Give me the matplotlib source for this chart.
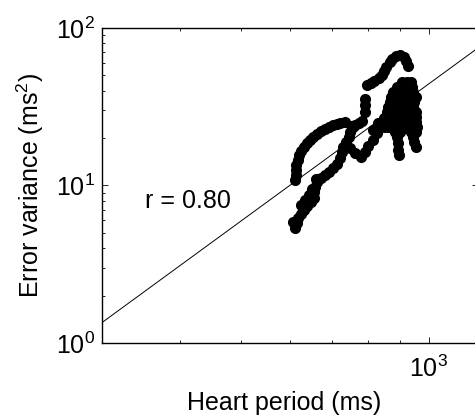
import numpy as np
import matplotlib
matplotlib.use("Agg")
import matplotlib.pyplot as plt
from matplotlib.ticker import LogLocator, NullFormatter

plt.rcParams['font.family'] = ['Liberation Sans', 'DejaVu Sans']
plt.rcParams['mathtext.fontset'] = 'custom'
plt.rcParams['mathtext.rm'] = 'Liberation Sans'

# heart period (ms) / error variance (ms^2)
# upper-left arc
hp_arc = [611, 613, 613, 613, 617, 620, 624, 631, 638, 645, 652, 662, 672, 682,
          692, 702, 712, 722, 733, 753, 763, 774, 782]
ev_arc = [10.8, 11.7, 12.5, 13.5, 14.5, 15.6, 16.6, 17.6, 18.6, 19.4, 20.3, 21.2,
          22.2, 22.8, 23.5, 24.2, 24.6, 24.9, 25.3, 23.9, 24.2, 24.9, 25.7]

# isolated dots + top arc
hp_top = [789, 789, 789, 795, 807, 818, 831, 840, 849, 855, 865, 874, 887, 900,
          913, 920, 927]
ev_top = [29.3, 32.5, 35.4, 43.5, 44.8, 46.1, 48.1, 50.3, 53.3, 56.5, 60.8, 63.6,
          66.4, 67.4, 65.4, 61.7, 57.4]

# dense cluster
hp_blob = [907, 924, 937,
           890, 907, 924, 941,
           877, 893, 910, 927, 944,
           871, 887, 904, 920, 937, 952,
           865, 880, 897, 913, 930, 948,
           861, 877, 893, 910, 927, 944,
           858, 874, 890, 907, 924, 941, 955,
           855, 871, 887, 904, 920, 937, 955,
           852, 868, 884, 900, 918, 934, 952,
           846, 861, 877, 893, 910, 927, 944, 958,
           884, 900, 937, 955,
           944, 948, 952,
           890, 893, 893, 897]
ev_blob = [45.4, 45.4, 45.4,
           42.2, 42.2, 42.2, 42.2,
           39.2, 39.2, 39.2, 39.2, 39.2,
           36.5, 36.5, 36.5, 36.5, 36.5, 36.5,
           33.9, 33.9, 33.9, 33.9, 33.9, 33.9,
           31.5, 31.5, 31.5, 31.5, 31.5, 31.5,
           29.3, 29.3, 29.3, 29.3, 29.3, 29.3, 29.3,
           27.2, 27.2, 27.2, 27.2, 27.2, 27.2, 27.2,
           25.3, 25.3, 25.3, 25.3, 25.3, 25.3, 25.3,
           23.5, 23.5, 23.5, 23.5, 23.5, 23.5, 23.5, 23.5,
           21.9, 21.9, 21.9, 21.9,
           20.3, 18.9, 17.6,
           20.3, 18.6, 16.8, 15.6]

# lower trace
hp_low = [611, 615, 617, 624, 631, 638, 647, 654, 654, 657, 662, 672, 682, 692,
          702, 712, 722, 727, 730, 736, 744, 749, 755,
          624, 633, 643, 606, 650, 660,
          749, 763, 778, 789, 800, 813, 825, 837, 849, 861, 813, 828]
ev_low = [5.37, 5.78, 6.22, 6.59, 6.99, 7.41, 7.86, 8.33, 9.09, 9.78, 10.5, 11.2,
          11.7, 12.2, 12.9, 13.7, 14.9, 16.3, 17.6, 18.9, 20.3, 21.9, 23.5,
          7.52, 8.09, 8.71, 5.9, 9.5, 11.0,
          17.3, 16.1, 15.2, 16.3, 17.8, 19.4, 21.5, 23.9, 26.8, 30.2, 22.5, 24.9]

# log-log regression line: log10(ev) = a + b*log10(hp)
fit_a = -7.054
fit_b = 2.9
r_value = 0.80

hp = np.array(hp_arc + hp_top + hp_blob + hp_low, dtype=float)
ev = np.array(ev_arc + ev_top + ev_blob + ev_low, dtype=float)

fig = plt.figure(figsize=(4.75, 4.16), dpi=100)
ax = fig.add_axes([0.2147, 0.1755, 0.7926, 0.7572])
ax.set_xscale('log')
ax.set_yscale('log')
ax.set_xlim(300, 1200)
ax.set_ylim(1, 100)

ax.plot(hp, ev, 'o', color='k', mec='k', ms=7, zorder=3)

xl = np.array(ax.get_xlim())
ax.plot(xl, 10 ** (fit_a + fit_b * np.log10(xl)), color='k', lw=0.7, zorder=2)

ax.text(352, 8, f'r = {r_value:.2f}', fontsize=18, va='center', ha='left')

ax.set_xticks([1000], labels=[r'$\mathregular{10^{3}}$'])
ax.set_yticks([1, 10, 100], labels=[r'$\mathregular{10^{0}}$', r'$\mathregular{10^{1}}$',
                                    r'$\mathregular{10^{2}}$'])
ax.xaxis.set_minor_locator(LogLocator(base=10, subs=np.arange(2, 10)))
ax.yaxis.set_minor_locator(LogLocator(base=10, subs=np.arange(2, 10)))
ax.xaxis.set_minor_formatter(NullFormatter())
ax.yaxis.set_minor_formatter(NullFormatter())
ax.tick_params(which='both', direction='in', top=True, right=True, width=0.6)
ax.tick_params(which='major', length=4, labelsize=18)
ax.tick_params(which='minor', length=2.5)
ax.tick_params(axis='x', pad=9)
ax.tick_params(axis='y', pad=5)
for s in ax.spines.values():
    s.set_linewidth(1.0)

ax.set_xlabel('Heart period (ms)', fontsize=18)
ax.set_ylabel(r'Error variance (ms$\mathregular{^2}$)', fontsize=18)
ax.xaxis.set_label_coords(0.485, -0.153)
ax.yaxis.set_label_coords(-0.15, 0.5)

fig.savefig('out.png', dpi=100)
